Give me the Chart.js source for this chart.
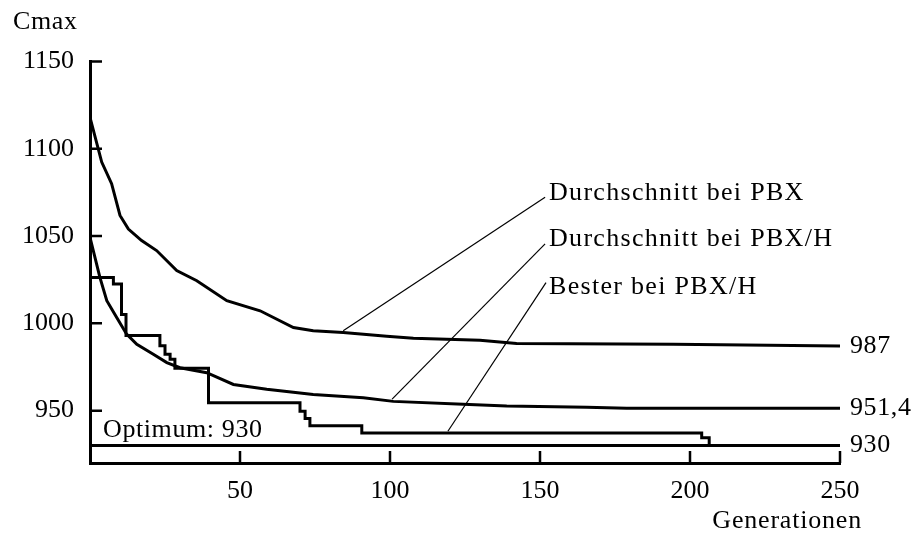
<!DOCTYPE html>
<html lang="de">
<head>
    <meta charset="UTF-8">
    <title>Cmax über Generationen</title>
    <script src="https://cdn.jsdelivr.net/npm/chart.js"></script>
    <style>
        html, body { margin: 0; padding: 0; background: #fff; }
        #wrap { width: 916px; height: 533px; }
    </style>
</head>
<body>
    <div id="wrap"><canvas id="cmaxChart" width="916" height="533"></canvas></div>

    <script>
        // Durchschnitt bei PBX
        const genPBX  = [0, 3.9, 7.2, 10, 12.8, 17.2, 22.2, 28.9, 35.6, 45.6, 56.7, 67.8, 74.4, 84.4, 98.9, 107.8, 130, 142.2, 194.4, 250];
        const cmaxPBX = [1118, 1092.4, 1080, 1061.8, 1054, 1047.4, 1041.7, 1030.2, 1024.4, 1013, 1007.2, 997.6, 995.7, 994.7, 992.6, 991.5, 990.3, 988.4, 988, 987];

        // Durchschnitt bei PBX/H
        const genPBXH  = [0, 3.3, 5.6, 8.9, 12.2, 15.6, 21.1, 25.6, 30, 38.9, 47.8, 58.9, 74.4, 91.1, 101.1, 124.4, 138.9, 165.6, 178.9, 250];
        const cmaxPBXH = [1049.3, 1026.3, 1013, 1003.3, 993.8, 988, 982.3, 977.5, 974.6, 971.7, 965, 962.2, 959.3, 957.4, 955.3, 953.6, 952.6, 952, 951.4, 951.4];

        // Bester bei PBX/H (Stufen: neuer Wert ab dieser Generation)
        const genBest  = [0, 7.8, 10.5, 12, 23.3, 25, 26.7, 28.3, 39.5, 70, 71.7, 73.3, 90.6, 203.9, 206.4, 250];
        const cmaxBest = [1026.3, 1022.5, 1005, 993, 987.1, 982.3, 979.4, 974.3, 954.5, 949.7, 945.5, 941.4, 937.2, 934.4, 930, 930];

        // Optimum
        const genOpt  = [0, 250];
        const cmaxOpt = [930, 930];

        // Hinweislinien zu den Beschriftungen (Start auf der Kurve, Ende am Text)
        const leaderLabels = ['Durchschnitt bei PBX', 'Durchschnitt bei PBX/H', 'Bester bei PBX/H'];
        const leaderFromX = [84.4, 100.7, 119.3];
        const leaderFromY = [995.7, 956.6, 938.2];
        const leaderToX   = [151.7, 151.7, 152];
        const leaderToY   = [1072.3, 1045.5, 1023.3];
        const labelX = [153, 153, 153];
        const labelY = [1074.4, 1048, 1021];

        const endLabels = ['987', '951,4', '930'];
        const endValues = [987, 951.4, 930];

        const xTicks = [50, 100, 150, 200, 250];
        const yTicks = [950, 1000, 1050, 1100, 1150];

        const FONT = '26px "Liberation Serif", "Times New Roman", serif';

        const toPoints = (xs, ys) => xs.map((x, i) => ({ x: x, y: ys[i] }));

        const curve = (label, xs, ys, stepped) => ({
            label: label,
            data: toPoints(xs, ys),
            borderColor: '#000',
            borderWidth: 3,
            pointRadius: 0,
            tension: 0,
            stepped: stepped || false,
            fill: false
        });

        const datasets = [
            curve('Durchschnitt bei PBX', genPBX, cmaxPBX),
            curve('Durchschnitt bei PBX/H', genPBXH, cmaxPBXH),
            curve('Bester bei PBX/H', genBest, cmaxBest, 'before'),
            curve('Optimum', genOpt, cmaxOpt)
        ];
        leaderLabels.forEach((name, i) => {
            datasets.push({
                label: 'leader ' + name,
                data: [{ x: leaderFromX[i], y: leaderFromY[i] }, { x: leaderToX[i], y: leaderToY[i] }],
                borderColor: '#000',
                borderWidth: 1.2,
                pointRadius: 0,
                tension: 0,
                fill: false,
                clip: false
            });
        });

        // inward ticks and all the free text
        const decor = {
            id: 'decor',
            afterDraw(chart) {
                const ctx = chart.ctx;
                const xs = chart.scales.x, ys = chart.scales.y;
                const area = chart.chartArea;
                ctx.save();
                ctx.strokeStyle = '#000';
                ctx.lineWidth = 2.5;
                ctx.beginPath();
                yTicks.forEach(v => {
                    const py = ys.getPixelForValue(v);
                    ctx.moveTo(area.left, py);
                    ctx.lineTo(area.left + 12, py);
                });
                xTicks.forEach(v => {
                    const px = xs.getPixelForValue(v);
                    ctx.moveTo(px, area.bottom);
                    ctx.lineTo(px, area.bottom - 12);
                });
                ctx.stroke();

                ctx.fillStyle = '#000';
                ctx.font = FONT;
                ctx.textBaseline = 'middle';
                ctx.textAlign = 'left';
                ctx.letterSpacing = '0.6px';
                ctx.fillText('Cmax', 13, 22);
                ctx.fillText('Optimum: 930', area.left + 13, ys.getPixelForValue(930) - 15);
                endLabels.forEach((t, i) => {
                    ctx.fillText(t, area.right + 10, ys.getPixelForValue(endValues[i]));
                });
                ctx.letterSpacing = '1.3px';
                leaderLabels.forEach((t, i) => {
                    ctx.fillText(t, xs.getPixelForValue(labelX[i]), ys.getPixelForValue(labelY[i]));
                });
                ctx.letterSpacing = '0.8px';
                ctx.textAlign = 'right';
                ctx.fillText('Generationen', 862, 521);
                ctx.restore();
            }
        };

        const ctx = document.getElementById('cmaxChart').getContext('2d');
        new Chart(ctx, {
            type: 'line',
            data: { datasets },
            options: {
                responsive: false,
                animation: false,
                layout: { padding: { top: 61.5, right: 76, left: 0, bottom: 0 } },
                plugins: {
                    legend: { display: false },
                    tooltip: { enabled: false }
                },
                scales: {
                    x: {
                        type: 'linear',
                        min: 0,
                        max: 250,
                        grid: { display: false, drawTicks: false },
                        border: { display: true, color: '#000', width: 3 },
                        ticks: {
                            stepSize: 50,
                            color: '#000',
                            font: { family: '"Liberation Serif", serif', size: 26 },
                            padding: 13,
                            maxRotation: 0,
                            callback: v => String(v)
                        },
                        afterBuildTicks: s => { s.ticks = xTicks.map(v => ({ value: v })); },
                        afterFit: s => { s.height = 70; }
                    },
                    y: {
                        min: 920,
                        max: 1150,
                        grid: { display: false, drawTicks: false },
                        border: { display: true, color: '#000', width: 3 },
                        ticks: {
                            stepSize: 50,
                            color: '#000',
                            font: { family: '"Liberation Serif", serif', size: 26 },
                            padding: 16,
                            callback: v => String(v)
                        },
                        afterBuildTicks: s => { s.ticks = yTicks.map(v => ({ value: v })); },
                        afterFit: s => { s.width = 90; }
                    }
                }
            },
            plugins: [decor]
        });
    </script>
</body>
</html>
